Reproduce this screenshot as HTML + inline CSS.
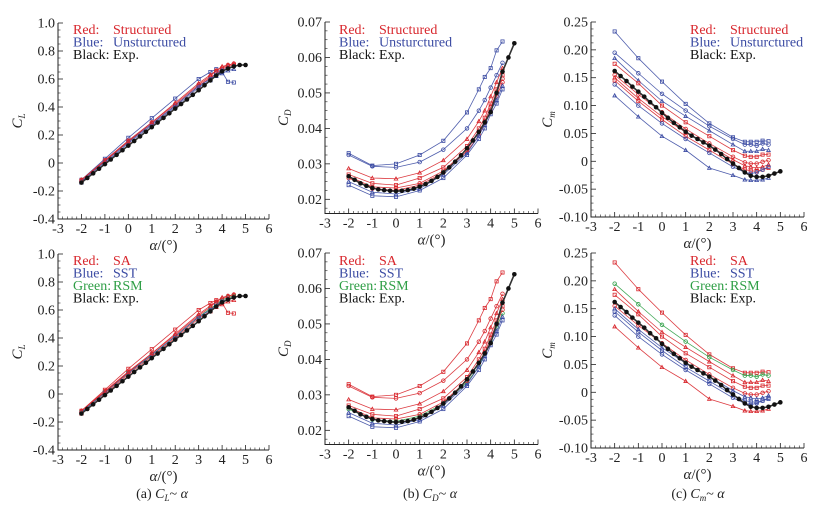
<!DOCTYPE html>
<html><head><meta charset="utf-8"><style>
html,body{margin:0;padding:0;background:#fff;}
svg{display:block;}
text{font-family:"Liberation Serif","DejaVu Serif","Times New Roman",serif;}
</style></head><body>
<svg id="fig" width="815" height="506" viewBox="0 0 815 506" xmlns="http://www.w3.org/2000/svg"></svg>
<script>
// ---- data ----
const cfdAlpha = [-2,-1,0,1,2,3,3.5,3.75,4,4.25,4.5];
const expAlpha = [-2,-1.75,-1.5,-1.25,-1,-0.75,-0.5,-0.25,0,0.25,0.5,0.75,1,1.25,1.5,1.75,2,2.25,2.5,2.75,3,3.25,3.5,3.75,4,4.25,4.5,4.75,5];
const xTicks = [-3,-2,-1,0,1,2,3,4,5,6];

const clExp = [-0.14,-0.107,-0.074,-0.041,-0.008,0.025,0.058,0.091,0.124,0.157,0.19,0.223,0.256,0.289,0.322,0.355,0.388,0.421,0.454,0.487,0.52,0.555,0.59,0.625,0.655,0.675,0.69,0.70,0.70];
const clS1 = [-0.12,0.03,0.18,0.32,0.46,0.60,0.65,0.67,0.65,0.58,0.575];
const clS2 = [-0.12,0.02,0.16,0.29,0.42,0.56,0.62,0.66,0.68,0.70,0.71];
const clS3 = [-0.14,0.00,0.14,0.27,0.40,0.54,0.59,0.62,0.64,0.66,0.67];
const clS4 = [-0.13,0.01,0.15,0.28,0.41,0.55,0.61,0.64,0.67,0.69,0.70];
const clS5 = [-0.13,0.01,0.15,0.28,0.41,0.55,0.60,0.64,0.66,0.68,0.69];
const clS6 = [-0.12,0.015,0.155,0.29,0.43,0.57,0.63,0.66,0.69,0.70,0.71];
const clTicks = [1.0,0.8,0.6,0.4,0.2,0,-0.2,-0.4];
const clTickLabels = ["1.0","0.8","0.6","0.4","0.2","0","-0.2","-0.4"];

const cdExp = [0.0265,0.0255,0.0245,0.0238,0.0232,0.0228,0.0226,0.0224,0.0223,0.0224,0.0226,0.0230,0.0236,0.0243,0.0252,0.0263,0.0276,0.0290,0.0306,0.0324,0.0344,0.0366,0.0390,0.0417,0.0446,0.0500,0.0560,0.0600,0.0640];
const cdS1 = [0.033,0.0295,0.030,0.0325,0.0365,0.0445,0.051,0.0545,0.057,0.062,0.0645];
const cdS2 = [0.0325,0.0293,0.029,0.0305,0.034,0.040,0.045,0.048,0.0515,0.055,0.0585];
const cdS3 = [0.0287,0.026,0.0258,0.0275,0.031,0.037,0.042,0.045,0.049,0.053,0.057];
const cdS4 = [0.027,0.0245,0.024,0.026,0.029,0.035,0.040,0.043,0.047,0.051,0.055];
const cdS5 = [0.026,0.023,0.0225,0.024,0.0275,0.0335,0.038,0.0415,0.045,0.049,0.053];
const cdS6 = [0.025,0.022,0.0215,0.023,0.027,0.033,0.038,0.041,0.045,0.048,0.052];
const cdS7 = [0.024,0.021,0.0207,0.0225,0.026,0.0325,0.037,0.040,0.044,0.047,0.051];
const cdS8 = [0.0265,0.0235,0.0232,0.0245,0.028,0.034,0.039,0.042,0.046,0.050,0.054];
const cdTicks = [0.07,0.06,0.05,0.04,0.03,0.02];
const cdTickLabels = ["0.07","0.06","0.05","0.04","0.03","0.02"];

const cmExp = [0.162,0.153,0.144,0.134,0.125,0.116,0.106,0.097,0.087,0.078,0.069,0.061,0.053,0.046,0.040,0.034,0.028,0.021,0.013,0.004,-0.004,-0.012,-0.020,-0.026,-0.028,-0.028,-0.026,-0.022,-0.018];
const cmS1 = [0.233,0.185,0.143,0.103,0.068,0.043,0.035,0.035,0.035,0.037,0.036];
const cmS2 = [0.195,0.158,0.121,0.091,0.063,0.040,0.030,0.030,0.028,0.032,0.030];
const cmS3 = [0.185,0.145,0.108,0.081,0.055,0.030,0.018,0.018,0.018,0.022,0.020];
const cmS4 = [0.175,0.140,0.100,0.070,0.045,0.020,0.010,0.008,0.008,0.012,0.012];
const cmS5 = [0.155,0.120,0.088,0.058,0.032,0.008,-0.002,-0.004,-0.004,-0.001,0.002];
const cmS6 = [0.150,0.113,0.080,0.052,0.028,0.003,-0.008,-0.010,-0.012,-0.010,-0.006];
const cmS7 = [0.145,0.108,0.075,0.045,0.020,-0.005,-0.015,-0.017,-0.018,-0.015,-0.012];
const cmS8 = [0.138,0.100,0.068,0.040,0.015,-0.010,-0.020,-0.022,-0.020,-0.015,-0.010];
const cmS9 = [0.118,0.080,0.045,0.020,-0.012,-0.025,-0.033,-0.034,-0.034,-0.033,-0.030];
const cmTicks = [0.25,0.20,0.15,0.10,0.05,0,-0.05,-0.10];
const cmTickLabels = ["0.25","0.20","0.15","0.10","0.05","0","-0.05","-0.10"];

const legendTop = [["Red:","Structured"],["Blue:","Unsturctured"],["Black:","Exp."]];
const legendBot = [["Red:","SA"],["Blue:","SST"],["Green:","RSM"],["Black:","Exp."]];

// ---- drawing ----
const NS="http://www.w3.org/2000/svg";
const svg=document.getElementById('fig');
const RED="#d8262c",BLUE="#3b4ba3",GREEN="#2e9e45",BLK="#111";
const FF="'Liberation Serif','DejaVu Serif',serif";
function mk(tag,attrs,parent){const e=document.createElementNS(NS,tag);for(const k in attrs)e.setAttribute(k,attrs[k]);if(tag==='text')e.setAttribute('font-family',FF);(parent||svg).appendChild(e);return e;}

function panel(cfg){
  const g=mk('g',{});
  
  
  const {L,R,T,B,ymin,ymax}=cfg;
  const xs=a=>L+(a-(-3))/9*(R-L);
  const ys=v=>B-(v-ymin)/(ymax-ymin)*(B-T);
  const ax=mk('path',{d:`M${L},${T}V${B}H${R}`,fill:'none',stroke:'#222','stroke-width':1},g);
  
  
  xTicks.forEach((t,i)=>{
    const x=xs(t);
    mk('line',{x1:x,y1:B,x2:x,y2:B-5,stroke:'#222','stroke-width':0.8},g);
    if(i<xTicks.length-1)for(let m=1;m<5;m++){const xm=xs(t+m*0.2);mk('line',{x1:xm,y1:B,x2:xm,y2:B-2.5,stroke:'#222','stroke-width':0.6},g);}
    const tx=mk('text',{x:x,y:B+14,'font-size':14,'text-anchor':'middle',fill:'#222'},g);
    tx.textContent=String(t);
    
    
  });
  const ystep=cfg.yTicks[0]-cfg.yTicks[1];
  cfg.yTicks.forEach((t,i)=>{
    const y=ys(t);
    mk('line',{x1:L,y1:y,x2:L+5,y2:y,stroke:'#222','stroke-width':0.8},g);
    for(let m=1;m<4;m++){const ym=ys(t-m*ystep/4);if(ym<=B)mk('line',{x1:L,y1:ym,x2:L+2.5,y2:ym,stroke:'#222','stroke-width':0.6},g);}
    const ty=mk('text',{x:L-3,y:y+4.5,'font-size':14,'text-anchor':'end',fill:'#222'},g);
    ty.textContent=cfg.yTickLabels[i];
    
    
  });
  const xt=mk('text',{x:(L+R)/2,y:B+31,'font-size':15,'text-anchor':'middle',fill:'#222'},g);
  xt.innerHTML='<tspan font-style="italic">α</tspan>/(°)';
  
  
  const yt=mk('text',{x:0,y:0,'font-size':15,'text-anchor':'middle',fill:'#222',transform:`translate(${cfg.ytx},${(T+B)/2}) rotate(-90)`},g);
  yt.innerHTML=`<tspan font-style="italic">C</tspan><tspan font-style="italic" font-size="9" dy="3">${cfg.sub}</tspan>`;
  
  
  cfg.series.forEach((s,si)=>{
    const pts=s.d.map((v,i)=>[xs(cfdAlpha[i]),ys(v)]);
    const pl=mk('polyline',{points:pts.map(p=>p.join(',')).join(' '),fill:'none',stroke:s.c,'stroke-width':0.8,opacity:0.9},g);
    
    
    pts.forEach(p=>{
      const sh=si%3;
      let m;
      if(sh===0)m=mk('rect',{x:p[0]-1.6,y:p[1]-1.6,width:3.2,height:3.2,fill:'none',stroke:s.c,'stroke-width':0.8},g);
      else if(sh===1)m=mk('circle',{cx:p[0],cy:p[1],r:1.8,fill:'none',stroke:s.c,'stroke-width':0.8},g);
      else m=mk('path',{d:`M${p[0]-1.8},${p[1]+1.4}L${p[0]},${p[1]-1.8}L${p[0]+1.8},${p[1]+1.4}Z`,fill:'none',stroke:s.c,'stroke-width':0.8},g);
      
      
    });
  });
  const ep=cfg.exp.map((v,i)=>[xs(expAlpha[i]),ys(v)]);
  const el=mk('polyline',{points:ep.map(p=>p.join(',')).join(' '),fill:'none',stroke:'#333','stroke-width':1.6},g);
  
  
  ep.forEach(p=>{
    const c=mk('circle',{cx:p[0],cy:p[1],r:2.3,fill:BLK},g);
    
    
  });
  const lg=mk('g',{},g);
  
  
  const cols=[RED,BLUE];
  if(cfg.legend.length===4)cols.push(GREEN);
  cols.push(BLK);
  cfg.legend.forEach((row,i)=>{
    const y=cfg.lgy+i*12.5;
    const t1=mk('text',{x:cfg.lgx,y:y,'font-size':14,fill:cols[i]},lg);
    t1.textContent=row[0];
    
    
    const t2=mk('text',{x:cfg.lgx+40,y:y,'font-size':14,fill:cols[i]},lg);
    t2.textContent=row[1];
    
    
  });
}

const clTopCols=[BLUE,RED,BLUE,RED,BLUE,RED];
const clBotCols=[RED,RED,RED,GREEN,BLUE,RED];
const cdTopCols=[BLUE,BLUE,RED,RED,RED,BLUE,BLUE,RED];
const cdBotCols=[RED,RED,RED,RED,GREEN,BLUE,BLUE,RED];
const cmTopCols=[BLUE,BLUE,BLUE,RED,RED,RED,RED,BLUE,BLUE];
const cmBotCols=[RED,GREEN,RED,RED,RED,BLUE,BLUE,BLUE,RED];
const clS=[clS1,clS2,clS3,clS4,clS5,clS6];
const cdS=[cdS1,cdS2,cdS3,cdS4,cdS5,cdS6,cdS7,cdS8];
const cmS=[cmS1,cmS2,cmS3,cmS4,cmS5,cmS6,cmS7,cmS8,cmS9];

[0,1].forEach(row=>{
  const dy=row*231;
  const lg=row?legendBot:legendTop;
  panel({name:row?'cl-panel-bottom':'cl-panel-top',L:58,R:269,T:23+dy,B:219+dy,ymin:-0.4,ymax:1.0,yTicks:clTicks,yTickLabels:clTickLabels,sub:'L',ytx:22,
    series:clS.map((d,i)=>({d:d,c:(row?clBotCols:clTopCols)[i]})),exp:clExp,legend:lg,lgx:73,lgy:34+dy});
  panel({name:row?'cd-panel-bottom':'cd-panel-top',L:325,R:538,T:22+dy,B:213.5+dy,ymin:0.016,ymax:0.07,yTicks:cdTicks,yTickLabels:cdTickLabels,sub:'D',ytx:288,
    series:cdS.map((d,i)=>({d:d,c:(row?cdBotCols:cdTopCols)[i]})),exp:cdExp,legend:lg,lgx:339,lgy:34+dy});
  panel({name:row?'cm-panel-bottom':'cm-panel-top',L:591,R:804,T:22+dy,B:217+dy,ymin:-0.10,ymax:0.25,yTicks:cmTicks,yTickLabels:cmTickLabels,sub:'m',ytx:552,
    series:cmS.map((d,i)=>({d:d,c:(row?cmBotCols:cmTopCols)[i]})),exp:cmExp,legend:lg,lgx:690,lgy:34+dy});
});

[["(a)","L",162],["(b)","D",430],["(c)","m",698]].forEach(c=>{
  const t=mk('text',{x:c[2],y:498,'font-size':14,'text-anchor':'middle',fill:'#222'});
  t.innerHTML=`${c[0]}  <tspan font-style="italic">C</tspan><tspan font-style="italic" font-size="9" dy="3">${c[1]}</tspan><tspan dy="-3">~ </tspan><tspan font-style="italic">α</tspan>`;
  
  
});
</script>
</body></html>
